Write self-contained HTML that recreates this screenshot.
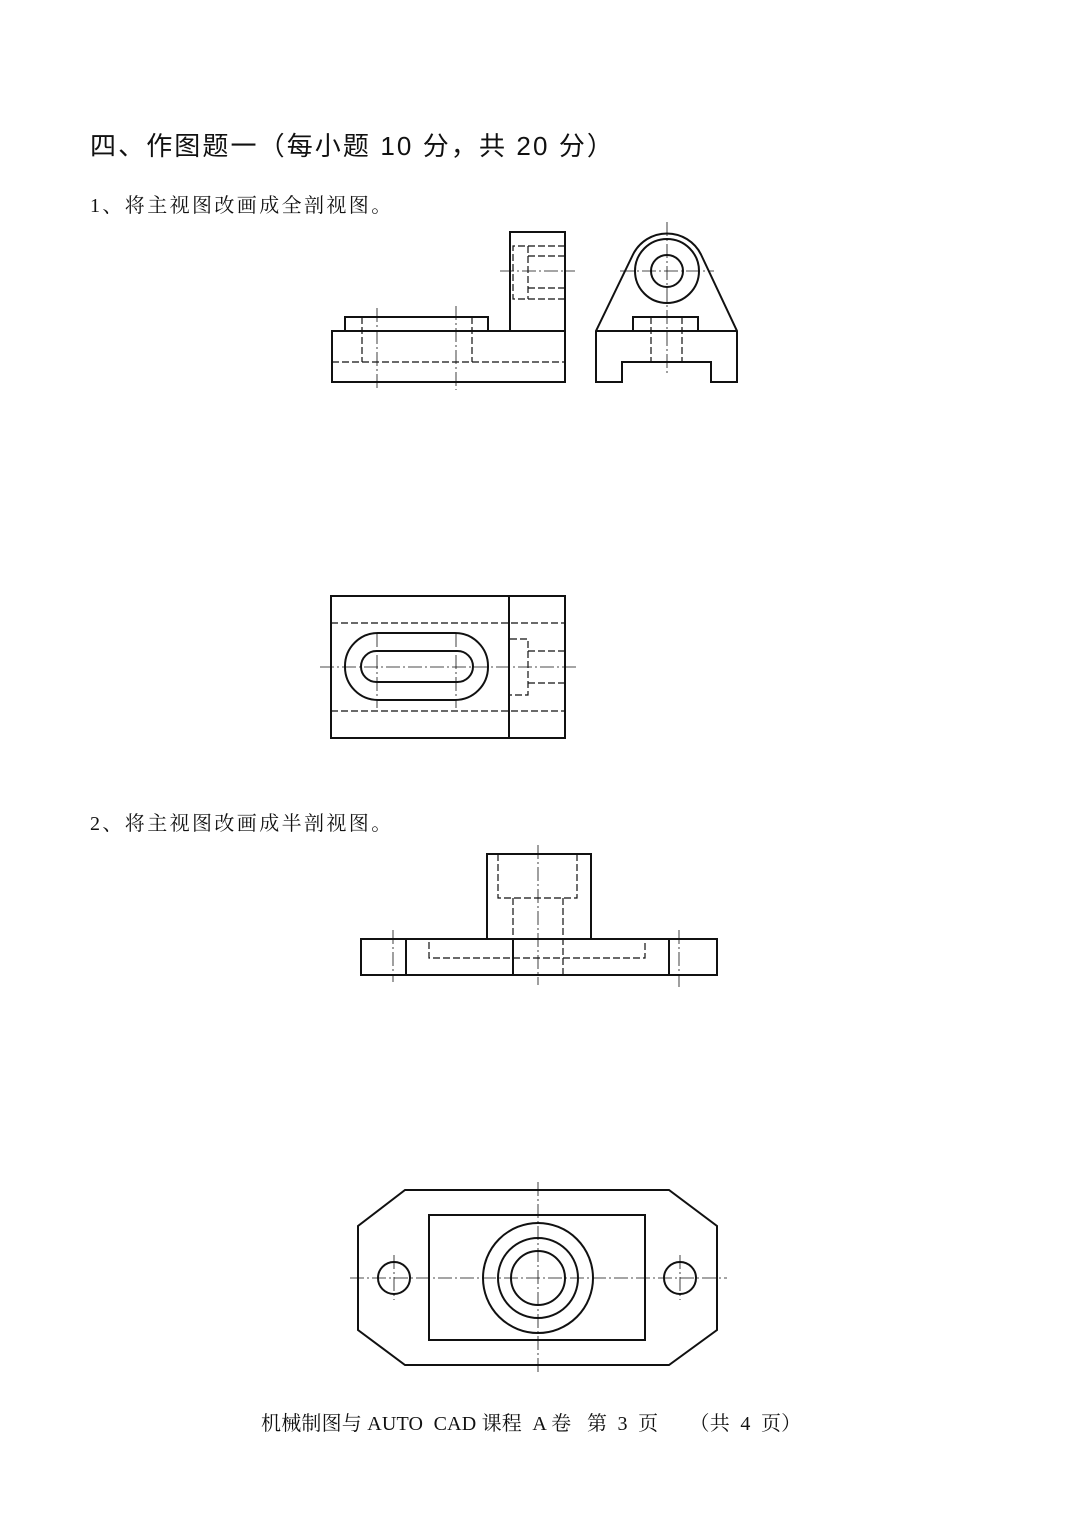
<!DOCTYPE html>
<html><head><meta charset="utf-8"><style>
body{margin:0;background:#fff;width:1075px;height:1518px;position:relative;overflow:hidden}
.t{position:absolute;white-space:nowrap;color:#111}
.h{font-family:"Liberation Sans","Noto Sans CJK SC",sans-serif;font-size:26px;left:90px;top:126px;letter-spacing:2.1px}
.s{font-family:"Liberation Serif","Noto Serif CJK SC",serif;font-size:20px;letter-spacing:1px}
svg{position:absolute;left:0;top:0}
</style></head><body>
<div class="t h">四、作图题一（每小题 10 分，共 20 分）</div>
<div class="t s" style="left:90px;top:189px;letter-spacing:2.4px">1、将主视图改画成全剖视图。</div>
<div class="t s" style="left:90px;top:807px;letter-spacing:2.4px">2、将主视图改画成半剖视图。</div>
<div class="t s" style="left:261px;top:1407px;font-size:20px;letter-spacing:0.2px">机械制图与 AUTO&nbsp; CAD 课程&nbsp; A 卷&nbsp;&nbsp; 第&nbsp; 3&nbsp; 页&nbsp;&nbsp;&nbsp;&nbsp;&nbsp; （共&nbsp; 4&nbsp; 页）</div>
<svg width="1075" height="1518" fill="none" stroke="#111">
<g stroke-width="2">
<rect x="332" y="331" width="233" height="51"/>
<rect x="345" y="317" width="143" height="14"/>
<rect x="510" y="232" width="55" height="99"/>
<path d="M596 382V331L633 254.5A38 38 0 0 1 701 254.5L737 331V382H711V362H622V382Z"/>
<line x1="596" y1="331" x2="737" y2="331"/>
<circle cx="667" cy="271" r="32"/><circle cx="667" cy="271" r="16"/>
<rect x="633" y="317" width="65" height="14"/>
<rect x="331" y="596" width="234" height="142"/>
<line x1="509" y1="596" x2="509" y2="738"/>
<rect x="345" y="633" width="143" height="67" rx="33"/>
<rect x="361" y="651" width="112" height="31" rx="15.5"/>
<rect x="487" y="854" width="104" height="85"/>
<rect x="361" y="939" width="356" height="36"/>
<line x1="406" y1="939" x2="406" y2="975"/><line x1="669" y1="939" x2="669" y2="975"/>
<path d="M405 1190H669L717 1226V1330L669 1365H405L358 1330V1226Z"/>
<rect x="429" y="1215" width="216" height="125"/>
<circle cx="538" cy="1278" r="55"/><circle cx="538" cy="1278" r="40"/><circle cx="538" cy="1278" r="27"/>
<circle cx="394" cy="1278" r="16"/><circle cx="680" cy="1278" r="16"/>
<line x1="513" y1="939" x2="513" y2="975"/>
</g>
<g stroke-width="1.2" stroke-dasharray="7 3">
<path d="M565 246H513V299H565M528 246V299M528 256H565M528 288H565"/>
<line x1="332" y1="362" x2="565" y2="362"/>
<line x1="362" y1="317" x2="362" y2="362"/><line x1="472" y1="317" x2="472" y2="362"/>
<line x1="651" y1="317" x2="651" y2="362"/><line x1="682" y1="317" x2="682" y2="362"/>
<line x1="331" y1="623" x2="565" y2="623"/><line x1="331" y1="711" x2="565" y2="711"/>
<path d="M510 639H528V695H510M528 651H565M528 683H565"/>
<path d="M498 854V898H577V854M513 898V939M563 898V975"/>
<path d="M429 942V958H645V942"/>
</g>
<g stroke-width="0.8" stroke-dasharray="14 3 2 3">
<line x1="500" y1="271" x2="575" y2="271"/><line x1="620" y1="271" x2="714" y2="271"/>
<line x1="667" y1="222" x2="667" y2="375"/>
<line x1="377" y1="308" x2="377" y2="390"/><line x1="456" y1="306" x2="456" y2="390"/>
<line x1="320" y1="667" x2="577" y2="667"/>
<line x1="377" y1="633" x2="377" y2="708"/><line x1="456" y1="633" x2="456" y2="708"/>
<line x1="538" y1="845" x2="538" y2="985"/>
<line x1="393" y1="930" x2="393" y2="982"/><line x1="679" y1="930" x2="679" y2="987"/>
<line x1="538" y1="1182" x2="538" y2="1372"/>
<line x1="350" y1="1278" x2="727" y2="1278"/>
<line x1="394" y1="1255" x2="394" y2="1300"/><line x1="680" y1="1255" x2="680" y2="1300"/>
</g>
</svg>
</body></html>
